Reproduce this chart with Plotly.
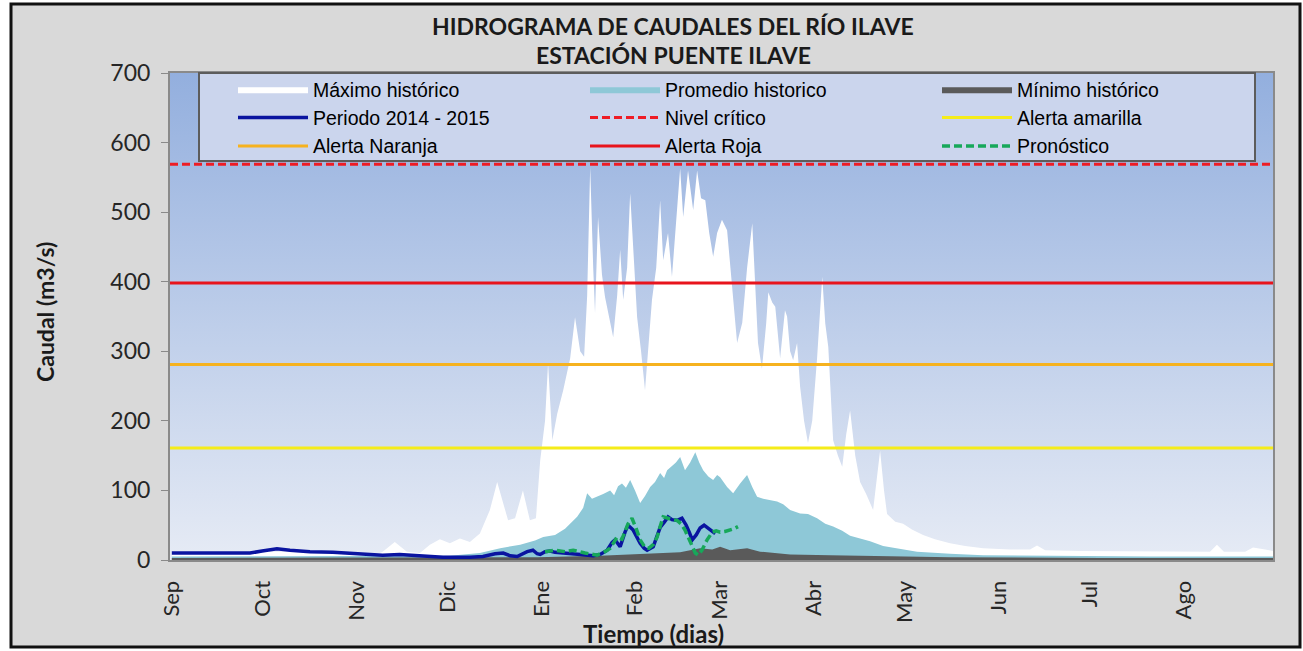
import base64
import plotly.graph_objects as go

# ---------------- data (day index from 1 Sep, caudal m3/s) ----------------
month_days = [0, 30, 61, 91, 122, 153, 181, 212, 242, 273, 303, 334]
month_labels = ["Sep", "Oct", "Nov", "Dic", "Ene", "Feb", "Mar", "Abr", "May", "Jun", "Jul", "Ago"]

max_days = [0, 25.8, 42.3, 68.6, 69.6, 73.6, 77.6, 81.9, 85.2, 88.5, 91.8, 95.1, 98.4, 101.7, 105.0,
            107.4, 109.4, 111.0, 113.3, 115.9, 118.2, 120.2, 121.6, 123.2, 124.2, 125.6, 127.2, 129.2,
            131.5, 133.1, 134.8, 136.1, 137.1, 138.1, 139.1, 139.7, 140.7, 142.0, 143.0, 144.7, 145.7,
            147.0, 148.0, 149.0, 150.3, 151.3, 152.6, 153.6, 154.9, 156.2, 157.2, 158.5, 159.9, 161.2,
            162.2, 163.8, 165.1, 166.4, 167.8, 168.8, 170.4, 172.1, 173.4, 174.7, 176.1, 177.4, 178.7,
            180.0, 181.6, 183.3, 184.9, 186.6, 188.3, 189.9, 191.6, 192.6, 193.5, 194.8, 196.2, 196.9,
            198.2, 199.2, 200.8, 202.4, 203.1, 204.1, 205.1, 206.4, 207.4, 208.7, 210.0, 211.4, 213.0,
            214.7, 215.7, 216.7, 218.3, 219.9, 221.3, 222.6, 223.9, 225.6, 227.2, 229.2, 231.5, 232.8,
            233.8, 235.1, 236.1, 238.8, 241.4, 244.3, 248.0, 251.9, 256.9, 261.9, 267.8, 276.7, 283.3,
            285.6, 288.3, 299.9, 312.1, 322.9, 333.8, 342.7, 345.0, 347.3, 354.3, 356.9, 360.9, 363.5]
max_vals = [12, 12, 12, 10, 12, 26, 12, 10, 22, 30, 24, 31, 26, 38, 72,
            112, 82, 57, 60, 100, 57, 60, 143, 200, 283, 172, 210, 244,
            290, 349, 300, 292, 380, 565, 420, 355, 493, 410, 378, 340, 320,
            380, 446, 374, 420, 527, 430, 349, 300, 244, 300, 374, 420, 517,
            431, 470, 407, 480, 563, 493, 560, 503, 560, 520, 517, 470, 436,
            470, 489, 474, 400, 312, 341, 420, 484, 400, 312, 275, 340, 385,
            370, 364, 290, 359, 350, 300, 287, 312, 249, 200, 168, 200, 290,
            407, 340, 306, 172, 150, 134, 180, 215, 150, 112, 95, 72, 120,
            157, 100, 66, 55, 52, 44, 36, 30, 24, 20, 17, 15, 15,
            21, 14, 13, 13, 12, 12, 12, 22, 12, 12, 18, 15, 13]

prom_days = [0, 42.3, 75.2, 91.8, 101.7, 108.4, 115.0, 119.9, 122.6, 126.5, 129.8, 133.8, 135.8,
             137.1, 138.7, 140.4, 142.4, 144.7, 146.0, 147.3, 148.6, 149.9, 151.3, 152.9, 154.6, 156.2,
             157.9, 159.5, 161.2, 162.5, 163.5, 165.1, 166.4, 167.8, 169.4, 171.1, 172.8, 174.1, 175.4,
             177.1, 178.7, 180.0, 181.0, 183.3, 185.3, 187.6, 189.9, 191.6, 193.2, 195.2, 197.5, 199.8,
             201.8, 204.1, 207.4, 210.0, 213.0, 215.7, 218.3, 221.3, 223.9, 227.2, 230.5, 234.8, 240.4,
             246.0, 256.9, 267.8, 289.9, 322.9, 363.5]
prom_vals = [5, 5, 5, 6, 10, 17, 22, 28, 33, 36, 45, 62, 75,
             96, 88, 91, 95, 100, 93, 106, 110, 104, 115, 100, 82, 92,
             105, 112, 125, 118, 129, 135, 140, 148, 129, 140, 155, 140, 129,
             120, 115, 122, 119, 105, 96, 110, 122, 105, 91, 88, 86, 84,
             80, 72, 67, 66, 60, 52, 48, 42, 35, 31, 27, 20, 16,
             12, 9, 7, 6, 5, 5]

min_days = [0, 108.4, 120.6, 141.4, 154.6, 161.2, 167.8, 174.4, 178.4, 181.0, 184.3, 189.9, 194.2,
            196.5, 204.1, 217.3, 230.5, 256.9, 306.5, 363.5]
min_vals = [3, 3, 4, 6, 8, 9, 11, 17, 15, 19, 14, 17, 12,
            11, 8, 7, 6, 4, 3, 3]

obs_days = [0, 9.3, 19.2, 25.8, 29.8, 34.7, 39.0, 45.6, 53.2, 58.8, 65.4, 69.6, 75.2, 81.9, 89.5,
            98.4, 102.7, 106.7, 109.4, 111.7, 114.0, 117.3, 119.2, 120.6, 121.6, 123.2, 124.9, 126.5,
            130.5, 134.8, 139.1, 141.4, 143.7, 145.3, 146.3, 148.0, 149.6, 150.6, 152.3, 153.6, 154.6,
            155.9, 156.9, 158.9, 160.2, 161.2, 162.5, 163.8, 165.1, 166.8, 168.4, 169.8, 170.8, 171.8,
            173.1, 174.4, 175.7, 176.7, 178.0, 179.4]
obs_vals = [10, 10, 9, 10, 13, 16, 14, 12, 11, 10, 8, 7, 8, 6, 4,
            4, 5, 9, 10, 6, 5, 12, 14, 9, 8, 12, 13, 11,
            10, 8, 6, 8, 14, 25, 29, 19, 40, 50, 43, 32, 24,
            17, 14, 19, 33, 47, 54, 62, 58, 57, 60, 50, 40, 29,
            36, 46, 50, 47, 42, 38]

fc_days = [123.2, 126.5, 129.8, 132.5, 136.4, 140.4, 143.0, 144.7, 147.0, 148.6, 150.6, 151.9,
           153.3, 154.6, 156.2, 157.5, 158.9, 160.2, 161.2, 162.2, 163.8, 165.1, 166.8, 168.1,
           169.4, 170.8, 171.8, 172.8, 173.8, 175.1, 176.7, 178.4, 179.7, 181.0, 182.6, 184.3,
           185.6, 186.9]
fc_vals = [12, 14, 12, 14, 10, 7, 12, 17, 33, 30, 52, 60,
           45, 29, 18, 17, 22, 33, 48, 62, 60, 58, 57, 52,
           43, 30, 19, 10, 7, 15, 29, 40, 42, 40, 41, 43,
           45, 48]

nivel_critico = 569
alerta_roja = 398
alerta_naranja = 281
alerta_amarilla = 161

title_1 = "HIDROGRAMA DE CAUDALES DEL RÍO ILAVE"
title_2 = "ESTACIÓN PUENTE ILAVE"
y_title = "Caudal (m3/s)"
x_title = "Tiempo (dias)"

# ---------------- figure ----------------
X0, X1 = -0.6, 363.5
W, H = 1303, 651
L, R, T, B = 170, 30, 73, 91
pw, ph = W - L - R, H - T - B


def px_x(p):
    return (p - L) / pw


def px_y(p):
    return (H - B - p) / ph


fig = go.Figure()
legend_font = dict(family="Liberation Sans, Arial, sans-serif", size=19.5, color="#000000")

fig.add_trace(go.Scatter(x=max_days, y=max_vals, name="Máximo histórico", mode="lines",
                         fill="tozeroy", fillcolor="#ffffff", line=dict(color="#ffffff", width=0),
                         legendrank=1))
fig.add_trace(go.Scatter(x=prom_days, y=prom_vals, name="Promedio historico", mode="lines",
                         fill="tozeroy", fillcolor="#8ec8d7", line=dict(color="#8ec8d7", width=0),
                         legendrank=2))
fig.add_trace(go.Scatter(x=min_days, y=min_vals, name="Mínimo histórico", mode="lines",
                         fill="tozeroy", fillcolor="#5a5a5a", line=dict(color="#5a5a5a", width=0),
                         legendrank=3))
xr = [X0, X1]
fig.add_trace(go.Scatter(x=xr, y=[nivel_critico] * 2, name="Nivel crítico", mode="lines",
                         line=dict(color="#ee1c25", width=3, dash="8px,4px"), legendrank=5))
fig.add_trace(go.Scatter(x=xr, y=[alerta_amarilla] * 2, name="Alerta amarilla", mode="lines",
                         line=dict(color="#f5ec1a", width=3), legendrank=6))
fig.add_trace(go.Scatter(x=xr, y=[alerta_naranja] * 2, name="Alerta Naranja", mode="lines",
                         line=dict(color="#f6b21f", width=3), legendrank=7))
fig.add_trace(go.Scatter(x=xr, y=[alerta_roja] * 2, name="Alerta Roja", mode="lines",
                         line=dict(color="#e8141c", width=3), legendrank=8))
fig.add_trace(go.Scatter(x=obs_days, y=obs_vals, name="Periodo 2014 - 2015", mode="lines",
                         line=dict(color="#0a14a0", width=3.5), legendrank=4))
fig.add_trace(go.Scatter(x=fc_days, y=fc_vals, name="Pronóstico", mode="lines",
                         line=dict(color="#17a85a", width=3.5, dash="8px,4px"), legendrank=9))

# gradient for plot area
svg = ('<svg xmlns="http://www.w3.org/2000/svg" width="100" height="100" preserveAspectRatio="none">'
       '<defs><linearGradient id="g" x1="0" y1="0" x2="0" y2="1">'
       '<stop offset="0" stop-color="#93afde"/><stop offset="1" stop-color="#e6ebf5"/>'
       '</linearGradient></defs><rect width="100" height="100" fill="url(#g)"/></svg>')
src = "data:image/svg+xml;base64," + base64.b64encode(svg.encode()).decode()

shapes = [
    dict(type="rect", xref="paper", yref="paper", x0=px_x(0), x1=px_x(10), y0=px_y(H), y1=px_y(0),
         fillcolor="#ffffff", line=dict(width=0), layer="below"),
    dict(type="rect", xref="paper", yref="paper", x0=px_x(0), x1=px_x(W), y0=px_y(3), y1=px_y(0),
         fillcolor="#ffffff", line=dict(width=0), layer="below"),
    dict(type="rect", xref="paper", yref="paper", x0=px_x(1300), x1=px_x(W), y0=px_y(H), y1=px_y(0),
         fillcolor="#ffffff", line=dict(width=0), layer="below"),
    dict(type="rect", xref="paper", yref="paper", x0=px_x(0), x1=px_x(W), y0=px_y(H), y1=px_y(648),
         fillcolor="#ffffff", line=dict(width=0), layer="below"),
    dict(type="rect", xref="paper", yref="paper", x0=px_x(11), x1=px_x(1300), y0=px_y(647), y1=px_y(4),
         fillcolor="rgba(0,0,0,0)", line=dict(color="#111111", width=3), layer="below"),
    # legend box (drawn behind the legend entries)
    dict(type="rect", xref="paper", yref="paper", x0=px_x(199), x1=px_x(1255), y0=px_y(161), y1=px_y(73),
         fillcolor="#cbd5ed", line=dict(color="#5c5c5c", width=2), layer="above"),
]

tfont = "Lato, Carlito, Calibri, sans-serif"
annotations = [
    dict(text=title_1, xref="paper", yref="paper", x=px_x(673), y=px_y(26), showarrow=False,
         xanchor="center", yanchor="middle", font=dict(family=tfont, size=23, color="#1a1a1a", weight="bold")),
    dict(text=title_2, xref="paper", yref="paper", x=px_x(673), y=px_y(55), showarrow=False,
         xanchor="center", yanchor="middle", font=dict(family=tfont, size=23, color="#1a1a1a", weight="bold")),
    dict(text=y_title, xref="paper", yref="paper", x=px_x(45), y=px_y(312), showarrow=False,
         textangle=-90, xanchor="center", yanchor="middle",
         font=dict(family=tfont, size=23, color="#1a1a1a", weight="bold")),
    dict(text=x_title, xref="paper", yref="paper", x=px_x(653), y=px_y(633), showarrow=False,
         xanchor="center", yanchor="middle", font=dict(family=tfont, size=24, color="#1a1a1a", weight="bold")),
]

fig.update_layout(
    width=W, height=H,
    margin=dict(l=L, r=R, t=T, b=B),
    paper_bgcolor="#d9d9d9",
    plot_bgcolor="#c0cdea",
    showlegend=True,
    legend=dict(orientation="h", x=px_x(233), y=px_y(70), xanchor="left", yanchor="top",
                bgcolor="rgba(0,0,0,0)", borderwidth=0,
                font=legend_font, entrywidth=267, entrywidthmode="pixels",
                itemwidth=70, traceorder="normal", tracegroupgap=0),
    images=[dict(source=src, xref="paper", yref="paper", x=0, y=1, sizex=1, sizey=1,
                 sizing="stretch", xanchor="left", yanchor="top", layer="below")],
    shapes=shapes,
    annotations=annotations,
    xaxis=dict(range=[X0, X1], tickmode="array", tickvals=month_days, ticktext=month_labels,
               tickangle=-90, showgrid=False, zeroline=False, showline=True, linecolor="#8a8a8a",
               linewidth=2, mirror=True, ticks="outside", ticklen=10, tickcolor="rgba(0,0,0,0)",
               tickfont=dict(family=tfont, size=22, color="#262626")),
    yaxis=dict(range=[0, 700], tickmode="array", tickvals=[0, 100, 200, 300, 400, 500, 600, 700],
               showgrid=False, zeroline=False, showline=True, linecolor="#8a8a8a", linewidth=2,
               mirror=True, ticks="outside", ticklen=7, tickcolor="#8a8a8a",
               ticklabelstandoff=6,
               tickfont=dict(family=tfont, size=23, color="#262626")),
)

fig.write_html("out.html", config={"displayModeBar": False},
               post_script="document.body.style.margin='0';document.body.style.overflow='hidden';")
